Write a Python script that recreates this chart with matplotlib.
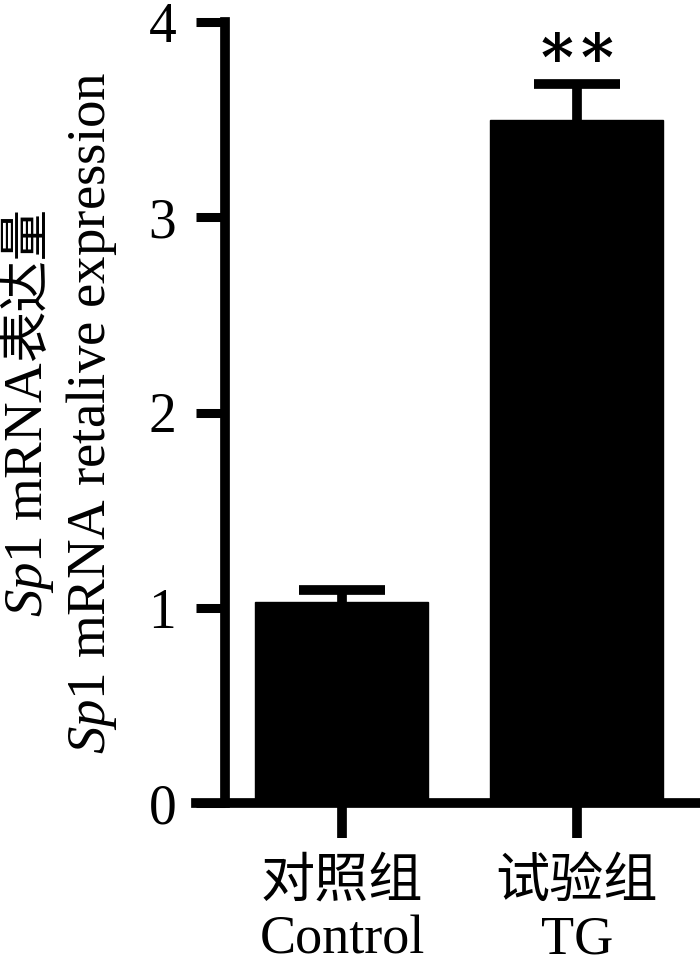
import matplotlib
matplotlib.use('Agg')
import matplotlib.pyplot as plt

# data
groups_cn = ['对照组', '试验组']
groups_en = ['Control', 'TG']
values = [1.03, 3.50]
errors = [0.06, 0.18]
yticks = [0, 1, 2, 3, 4]
sig_marks = ['', '**']

plt.rcParams['font.family'] = ['Liberation Serif', 'Noto Sans CJK SC']
plt.rcParams['mathtext.fontset'] = 'custom'
plt.rcParams['mathtext.rm'] = 'Liberation Serif'
plt.rcParams['mathtext.it'] = 'Liberation Serif:italic'

W, H = 700, 964
fig = plt.figure(figsize=(W / 100, H / 100), dpi=100)
ax = fig.add_axes([196 / W, 1 - 803 / H, (698 - 196) / W, (803 - 22) / H])

x = list(range(len(values)))
ax.bar(x, values, width=0.736, color='black', edgecolor='black', zorder=2)
ax.errorbar(x, values, yerr=errors, fmt='none', ecolor='black',
            elinewidth=7, capsize=31, capthick=7, zorder=3)

# significance stars, drawn one by one to get the wider spacing
for xi, v, e, s in zip(x, values, errors, sig_marks):
    for k, ch in enumerate(s):
        ax.annotate(ch, (xi, v + e), xytext=((k - (len(s) - 1) / 2) * 29, 3),
                    textcoords='offset points', ha='center', va='baseline',
                    fontsize=45, fontweight='bold', family='DejaVu Serif')

ax.set_xlim(-0.621, 1.515)
ax.set_ylim(0, 4)
ax.set_yticks(yticks)
ax.set_xticks(x, [f'{c}\n{e}' for c, e in zip(groups_cn, groups_en)])

for side in ['top', 'right']:
    ax.spines[side].set_visible(False)
ax.spines['left'].set_position(('data', -0.498))
ax.spines['left'].set_bounds(0, 4)
ax.spines['left'].set_linewidth(7)
ax.spines['bottom'].set_linewidth(7)

ax.tick_params(axis='y', direction='out', length=21, width=6.5,
               labelsize=40, pad=14)
ax.tick_params(axis='x', direction='out', length=25, width=7,
               labelsize=39, pad=15)
for lbl in ax.get_xticklabels():
    lbl.set_linespacing(1.15)

# two-line y label, the first line mixes latin and chinese
fig.text(105 / W, 1 - 413 / H, r'$\mathit{Sp}$1 mRNA retalive expression',
         rotation=90, rotation_mode='anchor', ha='center', va='baseline',
         fontsize=39.5, family='Liberation Serif')
t1 = fig.text(42 / W, 1 - 617 / H, r'$\mathit{Sp}$1 mRNA',
              rotation=90, rotation_mode='anchor', ha='left', va='baseline',
              fontsize=39.5, family='Liberation Serif')
fig.canvas.draw()
bb = t1.get_window_extent()
fig.text(42 / W, bb.y1 / H, '表达量', rotation=90, rotation_mode='anchor',
         ha='left', va='baseline', fontsize=37, family='Noto Sans CJK SC')

fig.savefig('out.png', dpi=100)
